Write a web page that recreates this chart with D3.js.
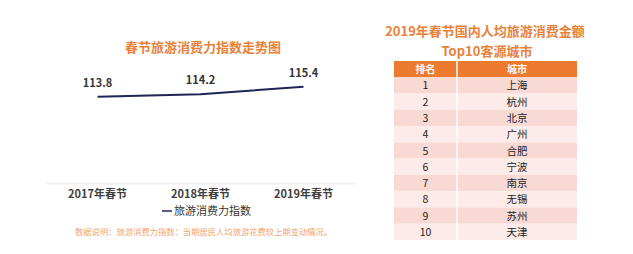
<!DOCTYPE html>
<html lang="zh">
<head>
  <meta charset="UTF-8">
  <title>春节旅游消费</title>
  <script src="https://d3js.org/d3.v7.min.js"></script>
  <style>
    body { margin: 0; background: #fff; }
    text { font-family: "Noto Sans CJK SC", "Noto Sans", sans-serif; }
  </style>
</head>
<body>
<div class="main"></div>
<script>
  // data
  const years = ["2017年春节", "2018年春节", "2019年春节"];
  const indexValues = [113.8, 114.2, 115.4];
  const ranks = [1, 2, 3, 4, 5, 6, 7, 8, 9, 10];
  const cities = ["上海", "杭州", "北京", "广州", "合肥", "宁波", "南京", "无锡", "苏州", "天津"];
  const tableHeader = ["排名", "城市"];

  const width = 633, height = 254;
  const orange = "#e8823a";

  let svg = d3.select(".main").append("svg")
    .attr("width", width)
    .attr("height", height);

  // ---- left: line chart ----
  svg.append("text").attr("x", 203).attr("y", 52)
    .attr("text-anchor", "middle")
    .style("font-size", "13px").style("font-weight", "bold")
    .style("fill", orange)
    .text("春节旅游消费力指数走势图");

  let xScale = d3.scaleBand().domain(years).range([46, 355]);
  let yScale = d3.scaleLinear().domain([100, 120]).range([183, 58]);

  let xAxis = d3.axisBottom(xScale).tickSize(0).tickPadding(7);
  let axisG = svg.append("g")
    .attr("transform", "translate(0,183)")
    .call(xAxis);
  axisG.select(".domain").style("stroke", "#f0f0f0").style("stroke-width", 2);
  axisG.selectAll("text")
    .style("font-size", "11px").style("font-weight", "bold")
    .style("fill", "#404040")
    .style("font-family", "\"Noto Sans CJK SC\", sans-serif");

  let pts = years.map((y, i) => ({ key: y, value: indexValues[i] }));
  let line = d3.line()
    .x(d => xScale(d.key) + xScale.bandwidth() / 2)
    .y(d => yScale(d.value));

  svg.append("path")
    .datum(pts)
    .attr("d", line)
    .style("fill", "none")
    .style("stroke", "#1f2554")
    .style("stroke-width", 2);

  svg.append("g").selectAll("text")
    .data(pts)
    .join("text")
    .attr("x", d => xScale(d.key) + xScale.bandwidth() / 2)
    .attr("y", d => yScale(d.value) - 10)
    .attr("text-anchor", "middle")
    .style("font-size", "11px").style("font-weight", "bold")
    .style("fill", "#333")
    .text(d => d.value.toFixed(1));

  // legend
  svg.append("line").attr("x1", 162).attr("x2", 172).attr("y1", 211).attr("y2", 211)
    .style("stroke", "#1f2554").style("stroke-width", 1.5);
  svg.append("text").attr("x", 174).attr("y", 215)
    .style("font-size", "11px").style("fill", "#333")
    .text("旅游消费力指数");

  // note
  svg.append("text").attr("x", 75).attr("y", 235)
    .style("font-size", "8.3px").style("fill", "#f2a46c")
    .text("数据说明：旅游消费力指数：当期居民人均旅游花费较上期变动情况。");

  // ---- right: table ----
  svg.append("text").attr("x", 485).attr("y", 36)
    .attr("text-anchor", "middle")
    .style("font-size", "13px").style("font-weight", "bold")
    .style("fill", orange)
    .text("2019年春节国内人均旅游消费金额");
  svg.append("text").attr("x", 487).attr("y", 55.5)
    .attr("text-anchor", "middle")
    .style("font-size", "13px").style("font-weight", "bold")
    .style("fill", orange)
    .text("Top10客源城市");

  let colX = d3.scaleOrdinal().domain(tableHeader).range([[394, 457], [457, 577]]);
  let rowY = d3.scaleBand().domain(["header"].concat(ranks)).range([61, 240]);

  let tableG = svg.append("g");
  tableHeader.forEach(h => {
    let [x0, x1] = colX(h);
    tableG.append("rect").attr("x", x0).attr("y", rowY("header"))
      .attr("width", x1 - x0).attr("height", rowY.bandwidth())
      .style("fill", "#ec7b30");
    tableG.append("text").attr("x", (x0 + x1) / 2).attr("y", rowY("header") + rowY.bandwidth() / 2 + 4)
      .attr("text-anchor", "middle")
      .style("font-size", "10px").style("font-weight", "bold").style("fill", "#fff")
      .text(h);
  });

  ranks.forEach((r, i) => {
    let fill = i % 2 === 0 ? "#f9d9d3" : "#fcebe8";
    let cells = [r, cities[i]];
    tableHeader.forEach((h, j) => {
      let [x0, x1] = colX(h);
      tableG.append("rect").attr("x", x0).attr("y", rowY(r))
        .attr("width", x1 - x0).attr("height", rowY.bandwidth())
        .style("fill", fill);
      tableG.append("text").attr("x", (x0 + x1) / 2).attr("y", rowY(r) + rowY.bandwidth() / 2 + 4)
        .attr("text-anchor", "middle")
        .style("font-size", "10.5px").style("fill", "#222")
        .text(cells[j]);
    });
  });
  // column divider
  tableG.append("line").attr("x1", 457).attr("x2", 457).attr("y1", 61).attr("y2", 240)
    .style("stroke", "#fff").style("stroke-width", 1.5);
</script>
</body>
</html>
